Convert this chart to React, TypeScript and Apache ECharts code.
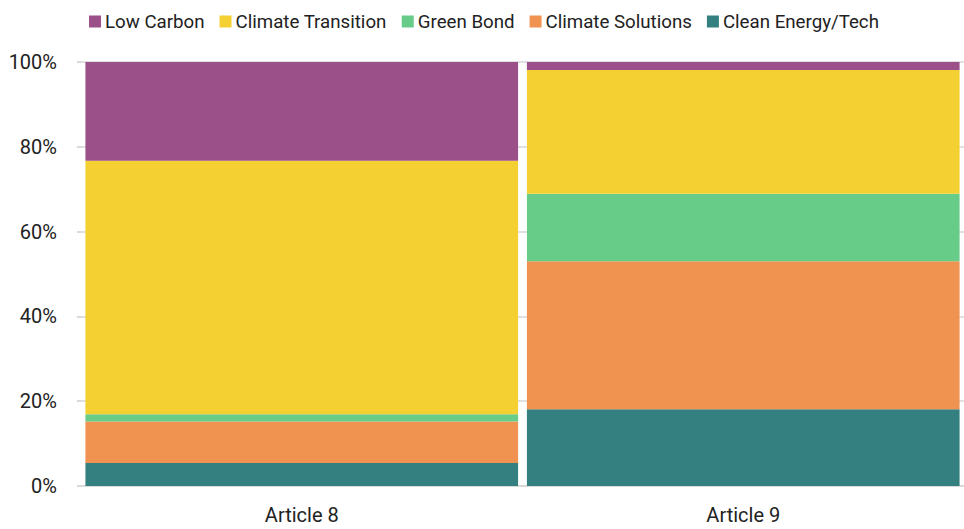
import React, { useEffect, useRef } from "react";
import * as echarts from "echarts";

const categories = ["Article 8", "Article 9"];
const seriesNames = ["Clean Energy/Tech", "Climate Solutions", "Green Bond", "Climate Transition", "Low Carbon"];
const cleanEnergy = [5.4, 18.1];
const climateSolutions = [9.8, 34.9];
const greenBond = [1.7, 15.9];
const climateTransition = [59.8, 29.2];
const lowCarbon = [23.3, 1.9];
const legendOrder = ["Low Carbon", "Climate Transition", "Green Bond", "Climate Solutions", "Clean Energy/Tech"];
const colors = ["#347F7F", "#F09250", "#66CC88", "#F5D033", "#9B5089"];

const FONT = "Roboto, sans-serif";

export default function App() {
  const ref = useRef<HTMLDivElement>(null);
  useEffect(() => {
    document.body.style.margin = "0";
    const chart = echarts.init(ref.current!, null, { renderer: "svg" });
    const values = [cleanEnergy, climateSolutions, greenBond, climateTransition, lowCarbon];
    chart.setOption({
      animation: false,
      textStyle: { fontFamily: FONT },
      legend: {
        data: legendOrder,
        left: 84,
        top: 7,
        itemWidth: 12,
        itemHeight: 12,
        itemGap: 15,
        icon: "rect",
        textStyle: { fontFamily: FONT, fontSize: 18.7, color: "#222", padding: [0, 0, 0, -1] },
      },
      grid: { left: 81, right: 0, top: 62, bottom: 43 },
      xAxis: {
        type: "category",
        data: categories,
        axisLine: { lineStyle: { color: "#d9d9d9", width: 2 } },
        axisTick: { show: false },
        axisLabel: { fontFamily: FONT, fontSize: 20, color: "#222", margin: 19 },
      },
      yAxis: {
        type: "value",
        min: 0,
        max: 100,
        interval: 20,
        axisLine: { show: false },
        axisTick: { show: true, length: 4, lineStyle: { color: "#d9d9d9", width: 2 } },
        splitLine: { lineStyle: { color: "#e0e0e0", width: 2 } },
        axisLabel: { fontFamily: FONT, fontSize: 20, color: "#222", formatter: "{value}%", margin: 24 },
      },
      series: seriesNames.map((name, i) => ({
        name,
        type: "bar",
        stack: "total",
        data: values[i],
        barCategoryGap: "2%",
        itemStyle: { color: colors[i] },
      })),
    });
    return () => chart.dispose();
  }, []);
  return <div ref={ref} style={{ width: 964, height: 529 }} />;
}
